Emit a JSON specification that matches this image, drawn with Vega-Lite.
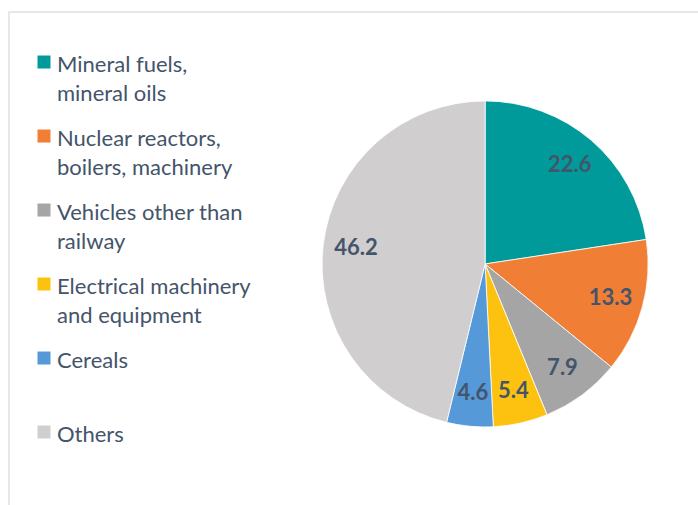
{
  "$schema": "https://vega.github.io/schema/vega-lite/v6.json",
  "autosize": {"type": "fit", "contains": "padding"},
  "width": 698,
  "height": 505,
  "padding": {"left": 9, "top": 12, "right": -3, "bottom": -3},
  "background": "white",
  "config": {
    "view": {"stroke": "#dde2e8", "strokeWidth": 1.5},
    "font": "Lato",
    "style": {"guide-label": {"lineHeight": 29}}
  },
  "data": {
    "values": [
      {"category": "Mineral fuels,|mineral oils", "value": 22.6, "order": 1},
      {"category": "Nuclear reactors,|boilers, machinery", "value": 13.3, "order": 2},
      {"category": "Vehicles other than|railway", "value": 7.9, "order": 3},
      {"category": "Electrical machinery|and equipment", "value": 5.4, "order": 4},
      {"category": "Cereals|", "value": 4.6, "order": 5},
      {"category": "Others|", "value": 46.2, "order": 6}
    ]
  },
  "encoding": {
    "theta": {"field": "value", "type": "quantitative", "stack": true},
    "order": {"field": "order", "type": "quantitative"},
    "x": {"datum": 68.8, "type": "quantitative", "scale": {"domain": [0, 100], "range": "width"}, "axis": null},
    "y": {"datum": 50.8, "type": "quantitative", "scale": {"domain": [0, 100], "range": [0, {"signal": "height"}]}, "axis": null}
  },
  "layer": [
    {
      "mark": {"type": "arc", "outerRadius": 163, "stroke": "white", "strokeWidth": 0.8},
      "encoding": {
        "color": {
          "field": "category",
          "type": "nominal",
          "sort": {"field": "order"},
          "scale": {
            "domain": ["Mineral fuels,|mineral oils", "Nuclear reactors,|boilers, machinery", "Vehicles other than|railway", "Electrical machinery|and equipment", "Cereals|", "Others|"],
            "range": ["#009a9a", "#f07f35", "#a5a5a5", "#fdc20f", "#5599d8", "#d0cece"]
          },
          "legend": {
            "title": null,
            "orient": "none",
            "legendX": 24,
            "legendY": 32,
            "symbolType": "M-1,0.08H1V2.08H-1Z",
            "symbolSize": 169,
            "symbolStrokeWidth": 0,
            "labelExpr": "split(datum.label, '|')",
            "labelFontSize": 22,
            "labelColor": "#44546a",
            "labelLimit": 400,
            "labelOffset": 2,
            "rowPadding": 13,
            "labelBaseline": "top"
          }
        }
      }
    },
    {
      "mark": {"type": "text", "radius": 130, "fontSize": 22, "fontWeight": "bold", "color": "#44546a"},
      "encoding": {
        "text": {"field": "value", "type": "quantitative", "format": ".1f"}
      }
    }
  ]
}
